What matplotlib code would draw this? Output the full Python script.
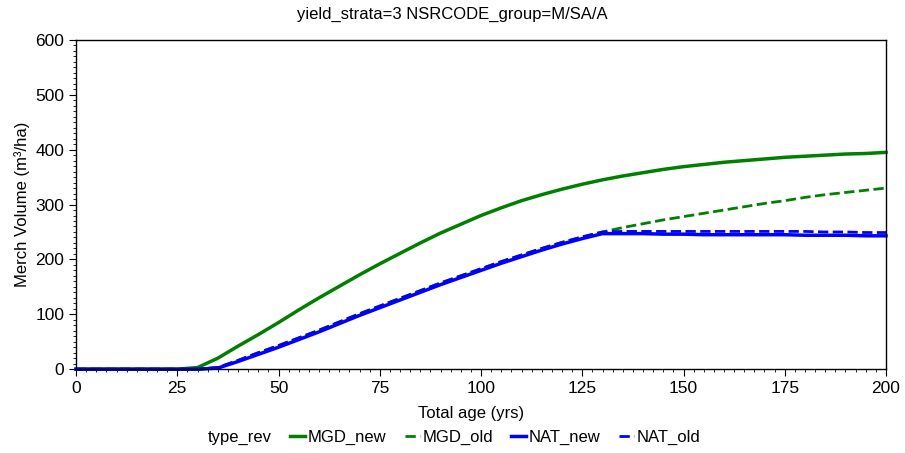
import numpy as np
import matplotlib
matplotlib.use("Agg")
import matplotlib.pyplot as plt
from matplotlib.ticker import MultipleLocator
from matplotlib.lines import Line2D

plt.rcParams.update({"font.family": ["Liberation Sans", "DejaVu Sans"], "font.size": 12})

age = list(range(0, 205, 5))

mgd_new = [0, 0, 0, 0, 0, 0, 3, 20, 42, 63, 85, 108, 130, 151, 172, 192, 211, 230, 248, 264,
           280, 294, 307, 318, 328, 337, 345, 352, 358, 364, 369, 373, 377, 380, 383, 386,
           388, 390, 392, 393, 395]
mgd_old = [0, 0, 0, 0, 0, 0, 0, 3, 16, 30, 43, 57, 71, 86, 101, 115, 129, 143, 157, 170,
           183, 196, 208, 220, 231, 241, 250, 258, 265, 272, 278, 284, 290, 296, 302, 307,
           313, 318, 322, 326, 330]
nat_new = [0, 0, 0, 0, 0, 0, 0, 2, 14, 27, 40, 54, 68, 83, 98, 112, 126, 140, 154, 167,
           180, 193, 205, 217, 228, 238, 247, 247, 247, 246, 246, 245, 245, 245, 245, 245,
           244, 244, 244, 243, 243]
nat_old = [0, 0, 0, 0, 0, 0, 0, 3, 16, 30, 43, 57, 71, 86, 101, 115, 129, 143, 157, 170,
           183, 196, 208, 220, 231, 241, 250, 251, 251, 251, 251, 251, 251, 251, 251, 251,
           251, 250, 250, 249, 249]

green = "#008000"
blue = "#0000FF"

fig = plt.figure(figsize=(9.05, 4.53), dpi=100)
ax = fig.add_axes([0.084, 0.185, 0.895, 0.727])

ax.plot(age, mgd_old, "--", color=green, lw=2, clip_on=False)
ax.plot(age, mgd_new, "-", color=green, lw=2.5, clip_on=False)
ax.plot(age, nat_new, "-", color=blue, lw=2.5, clip_on=False)
ax.plot(age, nat_old, "--", color=blue, lw=2, clip_on=False)

ax.set_xlim(0, 200)
ax.set_ylim(0, 600)
ax.xaxis.set_major_locator(MultipleLocator(25))
ax.xaxis.set_minor_locator(MultipleLocator(2.5))
ax.yaxis.set_major_locator(MultipleLocator(100))
ax.yaxis.set_minor_locator(MultipleLocator(10))
ax.tick_params(which="major", direction="out", length=5, labelsize=12.5)
ax.tick_params(which="minor", direction="out", length=2.5)
for s in ax.spines.values():
    s.set_linewidth(1)

ax.set_xlabel("Total age (yrs)", labelpad=7, x=0.488)
ax.set_ylabel("Merch Volume (m³/ha)")
ax.set_title("yield_strata=3 NSRCODE_group=M/SA/A", fontsize=12, pad=15, x=0.465)

handles = [
    Line2D([], [], color="none", label="type_rev"),
    Line2D([], [], color=green, lw=2.5, label="MGD_new"),
    Line2D([], [], color=green, lw=2, ls="--", label="MGD_old"),
    Line2D([], [], color=blue, lw=2.5, label="NAT_new"),
    Line2D([], [], color=blue, lw=2, ls="--", label="NAT_old"),
]
leg = fig.legend(handles=handles, loc="center", bbox_to_anchor=(0.492, 0.035), ncol=5,
                 frameon=False, handlelength=0.9, handletextpad=0.15, columnspacing=1.1,
                 fontsize=12)
leg.get_lines()[0].set_visible(False)

fig.savefig("out.png", dpi=100)
